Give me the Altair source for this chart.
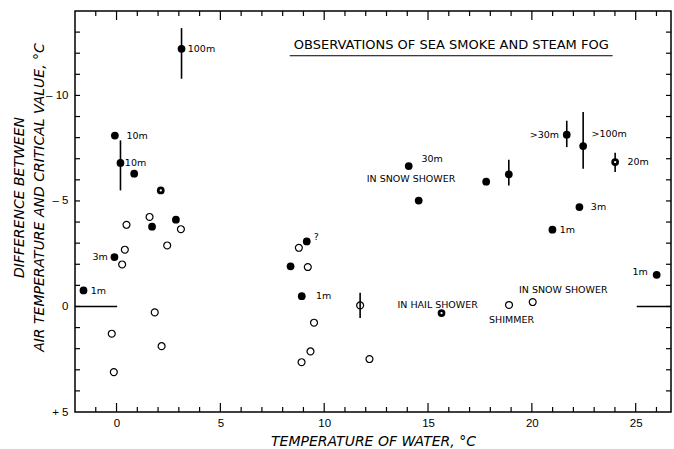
import altair as alt
import pandas as pd

# ---------------- data ----------------
# solid (black) observations
filled_x = [3.13, -0.08, 0.19, 0.85, 2.13, 2.86, 1.71, -0.10, -1.59, 8.38, 9.16, 8.92,
            14.07, 14.55, 17.80, 18.89, 21.68, 22.47, 24.01, 22.29, 20.99, 26.01, 15.65]
filled_y = [-12.21, -8.10, -6.80, -6.29, -5.50, -4.11, -3.78, -2.34, -0.76, -1.90, -3.08, -0.49,
            -6.65, -5.02, -5.91, -6.26, -8.14, -7.60, -6.84, -4.71, -3.64, -1.50, 0.31]
# solid points that show a small light centre
ringed_x = [2.13, 24.01, 15.65]
ringed_y = [-5.50, -6.84, 0.31]

# open observations
open_x = [0.48, 1.59, 3.10, 2.44, 0.40, 0.27, 1.84, -0.23, 2.17, -0.13, 8.78, 9.21, 9.51,
          9.34, 8.91, 11.73, 12.18, 18.90, 20.04]
open_y = [-3.87, -4.24, -3.66, -2.89, -2.69, -1.99, 0.28, 1.29, 1.88, 3.11, -2.78, -1.87, 0.77,
          2.13, 2.64, -0.05, 2.49, -0.07, -0.21]

# vertical range bars
err_x = [3.13, 0.19, 18.89, 21.68, 22.47, 24.01, 11.73]
err_lo = [-13.19, -7.87, -6.95, -8.80, -9.21, -7.28, -0.65]
err_hi = [-10.79, -5.50, -5.73, -7.55, -6.53, -6.37, 0.55]

# short zero reference segments
zero_x1 = [-2.0, 25.05]
zero_x2 = [0.03, 26.7]

# annotations (anchor in data units)
left_text = ["100m", "10m", "10m", "1m", "?", "1m", "30m", ">100m", "20m", "3m", "1m",
             "IN HAIL SHOWER", "SHIMMER", "IN SNOW SHOWER"]
left_x = [3.43, 0.48, 0.40, -1.24, 9.50, 9.60, 14.68, 22.87, 24.60, 22.84, 21.34,
          13.53, 17.94, 19.38]
left_y = [-12.21, -8.09, -6.81, -0.74, -3.29, -0.51, -7.00, -8.18, -6.86, -4.72, -3.64,
          -0.08, 0.66, -0.76]
right_text = ["3m", ">30m", "1m"]
right_x = [-0.42, 21.31, 25.58]
right_y = [-2.36, -8.14, -1.64]
center_text = ["IN SNOW SHOWER"]
center_x = [14.18]
center_y = [-6.05]

heading = ["OBSERVATIONS OF SEA SMOKE AND STEAM FOG"]
heading_x = [16.12]
heading_y = [-12.40]
underline_x1 = [8.34]
underline_x2 = [23.89]
underline_y = [-11.88]

x_tick_values = [0, 5, 10, 15, 20, 25]
y_tick_values = [-10, -5, 0, 5]
x_minor = [v for v in range(-1, 27) if v % 5 != 0]
x_major = [v for v in range(-1, 27) if v % 5 == 0]
y_minor = [v for v in range(-13, 5)]

X_DOMAIN = [-2, 26.7]
Y_DOMAIN = [-14, 5]
W, H = 596, 401

# ---------------- chart ----------------
xs = alt.Scale(domain=X_DOMAIN, nice=False, zero=False)
ys = alt.Scale(domain=Y_DOMAIN, nice=False, zero=False, reverse=True)

x_axis = alt.Axis(values=x_tick_values, title="TEMPERATURE OF WATER, °C", grid=False,
                  ticks=False, domain=False, labelPadding=5, titlePadding=6,
                  titleFont="DejaVu Sans", titleFontStyle="italic", titleFontWeight="normal",
                  titleFontSize=14, titleColor="black")
y_axis = alt.Axis(values=y_tick_values,
                  title=["DIFFERENCE BETWEEN", "AIR TEMPERATURE AND CRITICAL VALUE, °C"],
                  grid=False, ticks=False, domain=False, labelPadding=7,
                  labelExpr="datum.value < 0 ? '– ' + abs(datum.value) : (datum.value > 0 ? '+ ' + datum.value : '0')",
                  titleFont="DejaVu Sans", titleFontStyle="italic", titleFontWeight="normal",
                  titleFontSize=14, titleColor="black", titleX=-56, titleY=186,
                  titleBaseline="middle", titleLineHeight=20)

df_f = pd.DataFrame({"x": filled_x, "y": filled_y})
df_r = pd.DataFrame({"x": ringed_x, "y": ringed_y})
df_o = pd.DataFrame({"x": open_x, "y": open_y})
df_e = pd.DataFrame({"x": err_x, "lo": err_lo, "hi": err_hi})
df_z = pd.DataFrame({"x1": zero_x1, "x2": zero_x2, "y": [0, 0]})

base_filled = alt.Chart(df_f).mark_circle(size=60, color="black", opacity=1).encode(
    x=alt.X("x:Q", scale=xs, axis=x_axis),
    y=alt.Y("y:Q", scale=ys, axis=y_axis),
)

errs = alt.Chart(df_e).mark_rule(color="black", strokeWidth=1.6).encode(
    x="x:Q", y="lo:Q", y2="hi:Q")

zeros = alt.Chart(df_z).mark_rule(color="black", strokeWidth=1.5).encode(
    x="x1:Q", x2="x2:Q", y="y:Q")

opens = alt.Chart(df_o).mark_point(shape="circle", filled=False, size=48, color="black",
                                   strokeWidth=1.2, opacity=1).encode(x="x:Q", y="y:Q")

rings = alt.Chart(df_r).mark_circle(size=5, color="white", opacity=1).encode(x="x:Q", y="y:Q")

lab_font = dict(font="DejaVu Sans", fontSize=9.5, color="black", baseline="middle")
t_left = alt.Chart(pd.DataFrame({"x": left_x, "y": left_y, "t": left_text})).mark_text(
    align="left", **lab_font).encode(x="x:Q", y="y:Q", text="t:N")
t_right = alt.Chart(pd.DataFrame({"x": right_x, "y": right_y, "t": right_text})).mark_text(
    align="right", **lab_font).encode(x="x:Q", y="y:Q", text="t:N")
t_center = alt.Chart(pd.DataFrame({"x": center_x, "y": center_y, "t": center_text})).mark_text(
    align="center", **lab_font).encode(x="x:Q", y="y:Q", text="t:N")

head = alt.Chart(pd.DataFrame({"x": heading_x, "y": heading_y, "t": heading})).mark_text(
    align="center", baseline="middle", font="DejaVu Sans", fontSize=13, color="black"
).encode(x="x:Q", y="y:Q", text="t:N")
uline = alt.Chart(pd.DataFrame({"x1": underline_x1, "x2": underline_x2, "y": underline_y})
                  ).mark_rule(color="black", strokeWidth=1).encode(x="x1:Q", x2="x2:Q", y="y:Q")

df_xmin = pd.DataFrame({"v": x_minor})
df_xmaj = pd.DataFrame({"v": x_major})
df_ymin = pd.DataFrame({"v": y_minor})
tk = dict(color="black", strokeWidth=1.2)
top_min = alt.Chart(df_xmin).mark_rule(**tk).encode(x="v:Q", y=alt.value(0), y2=alt.value(5))
top_maj = alt.Chart(df_xmaj).mark_rule(**tk).encode(x="v:Q", y=alt.value(0), y2=alt.value(9))
bot_min = alt.Chart(df_xmin).mark_rule(**tk).encode(x="v:Q", y=alt.value(H), y2=alt.value(H - 5))
bot_maj = alt.Chart(df_xmaj).mark_rule(**tk).encode(x="v:Q", y=alt.value(H), y2=alt.value(H - 9))
left_t = alt.Chart(df_ymin).mark_rule(**tk).encode(y="v:Q", x=alt.value(0), x2=alt.value(5))
right_t = alt.Chart(df_ymin).mark_rule(**tk).encode(y="v:Q", x=alt.value(W), x2=alt.value(W - 5))

chart = alt.layer(
    base_filled, errs, zeros, opens, rings, t_left, t_right, t_center, head, uline,
    top_min, top_maj, bot_min, bot_maj, left_t, right_t
).properties(
    width=W, height=H,
    autosize=alt.AutoSizeParams(type="none"),
    padding={"left": 75, "top": 11, "right": 3, "bottom": 37},
    background="white",
).configure_view(
    stroke="black", strokeWidth=1.5
).configure_axis(
    labelFont="Liberation Sans", labelFontSize=11.5, labelColor="black"
)

chart.save("out.html", embed_options={"renderer": "svg", "actions": False})
